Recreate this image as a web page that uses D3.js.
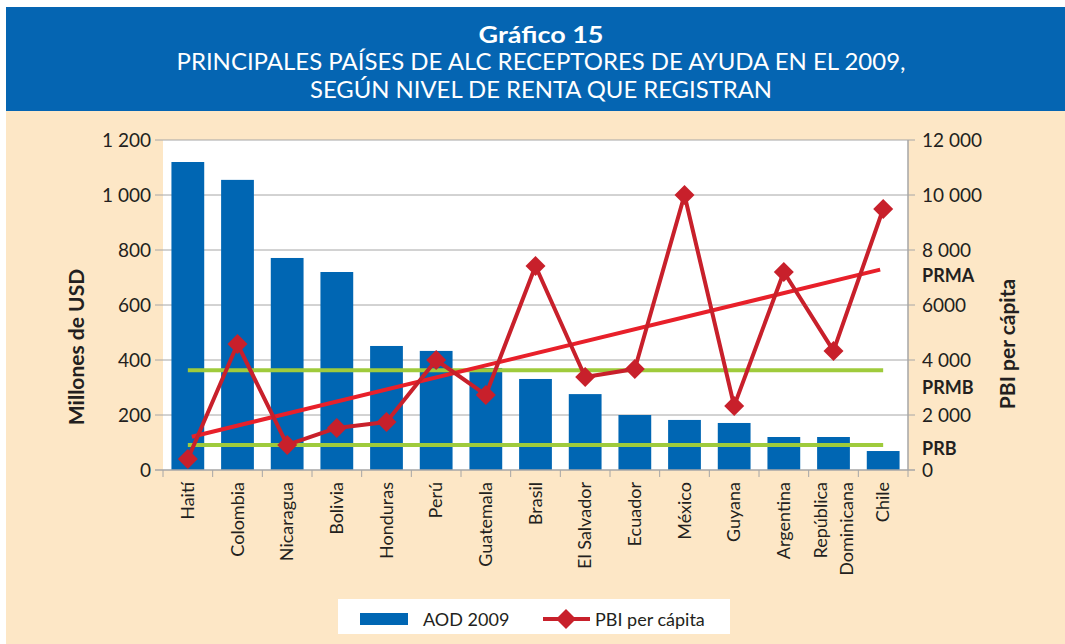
<!DOCTYPE html>
<html>
<head>
<meta charset="utf-8">
<script src="https://cdn.jsdelivr.net/npm/d3@7"></script>
<style>
  body { margin: 0; background: #fff; }
  svg { display: block; font-family: "Lato", "Open Sans", sans-serif; }
</style>
</head>
<body>
<svg id="chart" width="1065" height="644"></svg>
<script>
// Chart data
const countries = ["Haití", "Colombia", "Nicaragua", "Bolivia", "Honduras", "Perú", "Guatemala", "Brasil",
                   "El Salvador", "Ecuador", "México", "Guyana", "Argentina", "República\nDominicana", "Chile"];
const aod2009 = [1120, 1055, 771, 720, 451, 433, 371, 331, 276, 200, 182, 171, 120, 120, 69];
const pbiPerCapita = [400, 4580, 910, 1530, 1745, 4000, 2730, 7420, 3380, 3670, 10000, 2330, 7200, 4330, 9490];
const incomeThresholds = [910, 3630]; // PRB / PRMB limits
const leftTicks = [0, 200, 400, 600, 800, 1000, 1200];
const leftTickLabels = ["0", "200", "400", "600", "800", "1 000", "1 200"];
const rightTicks = [0, 2000, 4000, 6000, 8000, 10000, 12000];
const rightTickLabels = ["0", "2 000", "4 000", "6000", "8 000", "10 000", "12 000"];
const incomeLabels = ["PRMA", "PRMB", "PRB"];
const incomeLabelValues = [7050, 2990, 780];

const COLORS = {
  header: "#0565B2",
  cream: "#FDE7C6",
  bar: "#0066B3",
  pbi: "#C8202B",
  trend: "#E8202A",
  green: "#9FCB3C",
  grid: "#A6A6A6",
  text: "#231F20"
};

const svg = d3.select("#chart");
const plot = { left: 163, right: 908, top: 140, bottom: 470 };

// background + header
svg.append("rect").attr("x", 0).attr("y", 0).attr("width", 1065).attr("height", 644).attr("fill", "#fff");
svg.append("rect").attr("x", 6).attr("y", 111).attr("width", 1059).attr("height", 533).attr("fill", COLORS.cream);
svg.append("rect").attr("x", 6).attr("y", 7).attr("width", 1059).attr("height", 104).attr("fill", COLORS.header);

const titleLines = [
  { text: "Gráfico 15", y: 43, weight: 700, size: 23, len: 125 },
  { text: "PRINCIPALES PAÍSES DE ALC RECEPTORES DE AYUDA EN EL 2009,", y: 70, weight: 400, size: 23, len: 729 },
  { text: "SEGÚN NIVEL DE RENTA QUE REGISTRAN", y: 98, weight: 400, size: 23, len: 462 }
];
svg.selectAll(".title").data(titleLines).join("text")
  .attr("x", 541).attr("y", d => d.y)
  .attr("text-anchor", "middle")
  .attr("fill", "#fff")
  .attr("font-size", d => d.size)
  .attr("font-weight", d => d.weight)
  .attr("textLength", d => d.len)
  .attr("lengthAdjust", "spacingAndGlyphs")
  .text(d => d.text);

// scales
const x = d3.scaleBand().domain(countries).range([plot.left, plot.right]).paddingInner(0.34).paddingOuter(0.17);
const xc = d => x(d) + x.bandwidth() / 2;
const yLeft = d3.scaleLinear().domain([0, 1200]).range([plot.bottom, plot.top]);
const yRight = d3.scaleLinear().domain([0, 12000]).range([plot.bottom, plot.top]);

// plot area
svg.append("rect").attr("x", plot.left).attr("y", plot.top)
  .attr("width", plot.right - plot.left).attr("height", plot.bottom - plot.top).attr("fill", "#fff");

// gridlines + left ticks
svg.append("g").selectAll("line").data(leftTicks.slice(1)).join("line")
  .attr("x1", plot.left - 8).attr("x2", plot.right + 7)
  .attr("y1", d => yLeft(d)).attr("y2", d => yLeft(d))
  .attr("stroke", COLORS.grid).attr("stroke-width", 1);

// bars
svg.append("g").selectAll("rect").data(aod2009).join("rect")
  .attr("x", (d, i) => x(countries[i]))
  .attr("y", d => yLeft(d))
  .attr("width", x.bandwidth())
  .attr("height", d => yLeft(0) - yLeft(d))
  .attr("fill", COLORS.bar);

// axes lines
svg.append("line").attr("x1", plot.right).attr("x2", plot.right).attr("y1", plot.top).attr("y2", plot.bottom)
  .attr("stroke", COLORS.grid).attr("stroke-width", 1.5);
svg.append("line").attr("x1", plot.left - 8).attr("x2", plot.right + 7).attr("y1", plot.bottom).attr("y2", plot.bottom)
  .attr("stroke", COLORS.grid).attr("stroke-width", 1.5);
const step = x.step();
svg.append("g").selectAll("line").data(d3.range(countries.length + 1)).join("line")
  .attr("x1", i => plot.left + i * step).attr("x2", i => plot.left + i * step)
  .attr("y1", plot.bottom).attr("y2", plot.bottom + 7)
  .attr("stroke", COLORS.grid).attr("stroke-width", 1);

// left tick labels
svg.append("g").selectAll("text").data(leftTicks).join("text")
  .attr("x", plot.left - 12).attr("y", d => yLeft(d) + 7)
  .attr("text-anchor", "end").attr("font-size", 19).attr("fill", COLORS.text)
  .text((d, i) => leftTickLabels[i]);

// right tick labels
svg.append("g").selectAll("text").data(rightTicks).join("text")
  .attr("x", plot.right + 14).attr("y", d => yRight(d) + 7)
  .attr("text-anchor", "start").attr("font-size", 19).attr("fill", COLORS.text)
  .text((d, i) => rightTickLabels[i]);

// income labels
svg.append("g").selectAll("text").data(incomeLabelValues).join("text")
  .attr("x", plot.right + 14).attr("y", d => yRight(d) + 6)
  .attr("font-size", 18).attr("font-weight", 700).attr("fill", COLORS.text)
  .text((d, i) => incomeLabels[i]);

// axis titles
svg.append("text").attr("transform", "translate(84,347) rotate(-90)")
  .attr("text-anchor", "middle").attr("font-size", 21).attr("font-weight", 700).attr("fill", COLORS.text)
  .text("Millones de USD");
svg.append("text").attr("transform", "translate(1015,344) rotate(-90)")
  .attr("text-anchor", "middle").attr("font-size", 21).attr("font-weight", 700).attr("fill", COLORS.text)
  .text("PBI per cápita");

// x labels
const xl = svg.append("g").selectAll("text").data(countries).join("text")
  .attr("transform", d => `translate(${xc(d)},482) rotate(-90)`)
  .attr("text-anchor", "end").attr("font-size", 18).attr("fill", COLORS.text);
xl.each(function (d) {
  const lines = d.split("\n");
  const t = d3.select(this);
  lines.forEach((ln, k) => {
    t.append("tspan").attr("x", 0)
      .attr("y", (k - (lines.length - 1) / 2) * 26 + 6)
      .text(ln);
  });
});

// green threshold lines
svg.append("g").selectAll("line").data(incomeThresholds).join("line")
  .attr("x1", xc(countries[0])).attr("x2", xc(countries[countries.length - 1]))
  .attr("y1", d => yRight(d)).attr("y2", d => yRight(d))
  .attr("stroke", COLORS.green).attr("stroke-width", 4);

// linear trend of PBI per capita
const idx = d3.range(pbiPerCapita.length);
const mx = d3.mean(idx), my = d3.mean(pbiPerCapita);
const slope = d3.sum(idx, i => (i - mx) * (pbiPerCapita[i] - my)) / d3.sum(idx, i => (i - mx) ** 2);
const icpt = my - slope * mx;
const first = 0, last = pbiPerCapita.length - 1;
svg.append("line")
  .attr("x1", xc(countries[first]) + 4).attr("y1", yRight(icpt + slope * first))
  .attr("x2", xc(countries[last]) - 3).attr("y2", yRight(icpt + slope * last))
  .attr("stroke", COLORS.trend).attr("stroke-width", 4);

// PBI line + diamonds
const line = d3.line().x((d, i) => xc(countries[i])).y(d => yRight(d));
svg.append("path").datum(pbiPerCapita).attr("d", line)
  .attr("fill", "none").attr("stroke", COLORS.pbi).attr("stroke-width", 4).attr("stroke-linejoin", "round");
svg.append("g").selectAll("path").data(pbiPerCapita).join("path")
  .attr("transform", (d, i) => `translate(${xc(countries[i])},${yRight(d)}) rotate(45)`)
  .attr("d", d3.symbol().type(d3.symbolSquare).size(200))
  .attr("fill", COLORS.pbi);

// legend
const lg = svg.append("g");
lg.append("rect").attr("x", 338).attr("y", 599).attr("width", 392).attr("height", 35).attr("fill", "#fff");
lg.append("rect").attr("x", 360).attr("y", 613).attr("width", 48).attr("height", 12).attr("fill", COLORS.bar);
lg.append("text").attr("x", 423).attr("y", 626).attr("font-size", 18).attr("fill", COLORS.text).text("AOD 2009");
lg.append("line").attr("x1", 543).attr("x2", 590).attr("y1", 619).attr("y2", 619)
  .attr("stroke", COLORS.pbi).attr("stroke-width", 4);
lg.append("path").attr("transform", "translate(566,619) rotate(45)")
  .attr("d", d3.symbol().type(d3.symbolSquare).size(200)).attr("fill", COLORS.pbi);
lg.append("text").attr("x", 595).attr("y", 626).attr("font-size", 18).attr("fill", COLORS.text).text("PBI per cápita");
</script>
</body>
</html>
